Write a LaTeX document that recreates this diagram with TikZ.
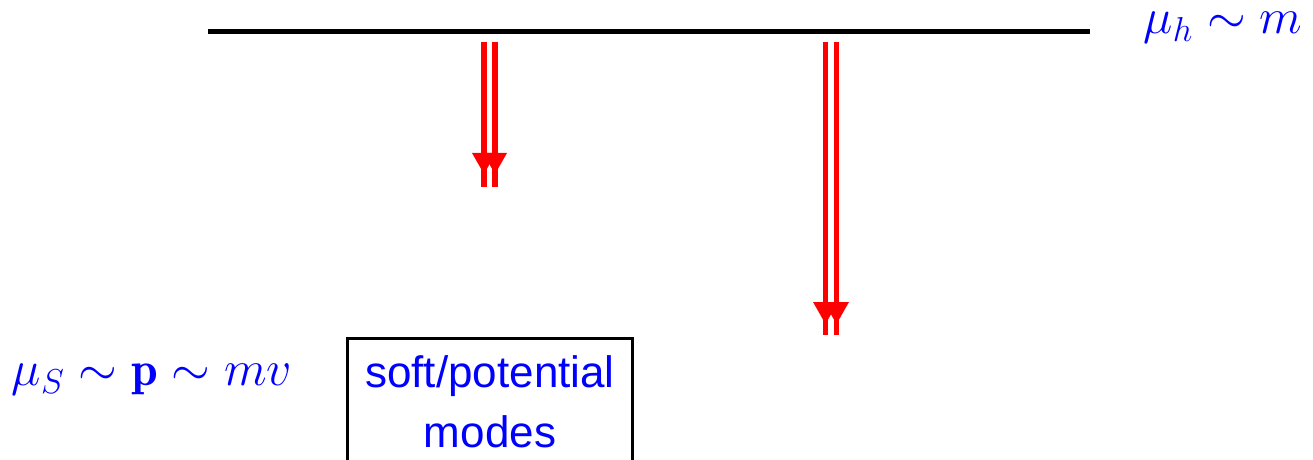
\documentclass[tikz,border=0pt]{standalone}
\usepackage{fontspec}
\newfontfamily\boxfont{Liberation Sans}
\definecolor{lblue}{RGB}{0,0,255}
\definecolor{lred}{RGB}{255,0,0}
\begin{document}
\begin{tikzpicture}[x=0.5pt,y=-0.5pt,
  mathlabel/.style={text=lblue,font=\fontsize{24}{28}\selectfont,inner sep=0pt},
  boxlabel/.style={text=lblue,font=\boxfont\fontsize{22}{28}\selectfont,inner sep=0pt},
  scale line/.style={line width=2.5pt,black},
  redline/.style={line width=2.6pt,lred},
  redtip/.style={fill=lred,draw=none}]
\useasboundingbox (0,0) rectangle (1313,460);
\clip (0,0) rectangle (1313,460);
% scale line
\coordinate (hl) at (208,32);
\coordinate (hr) at (1090,32);
\draw[scale line] (hl) -- (hr);
\node[mathlabel] (muh) at (1223,28) {$\mu_h\sim m$};
% arrow 1
\coordinate (a1s) at (484,42); \coordinate (a1e) at (484,187);
\coordinate (b1s) at (495,42); \coordinate (b1e) at (495,187);
\draw[redline] (a1s) -- (a1e);
\draw[redline] (b1s) -- (b1e);
\fill[redtip] (472,153) -- (496,153) -- (484,174) -- cycle;
\fill[redtip] (483,153) -- (507,153) -- (495,174) -- cycle;
% arrow 2
\coordinate (a2s) at (825.5,42); \coordinate (a2e) at (825.5,335);
\coordinate (b2s) at (836.5,42); \coordinate (b2e) at (836.5,335);
\draw[redline] (a2s) -- (a2e);
\draw[redline] (b2s) -- (b2e);
\fill[redtip] (813,302) -- (838,302) -- (825.5,324) -- cycle;
\fill[redtip] (824,302) -- (849,302) -- (836.5,324) -- cycle;
% soft scale label
\node[mathlabel] (mus) at (152,380) {$\mu_S\sim\mathbf{p}\sim mv$};
% box
\coordinate (bx1) at (347.5,338.5);
\coordinate (bx2) at (632,490);
\draw[line width=1.5pt] (bx1) rectangle (bx2);
\node[boxlabel] (t1) at (490,376) {soft/potential};
\node[boxlabel] (t2) at (490,432) {modes};
\end{tikzpicture}
\end{document}
